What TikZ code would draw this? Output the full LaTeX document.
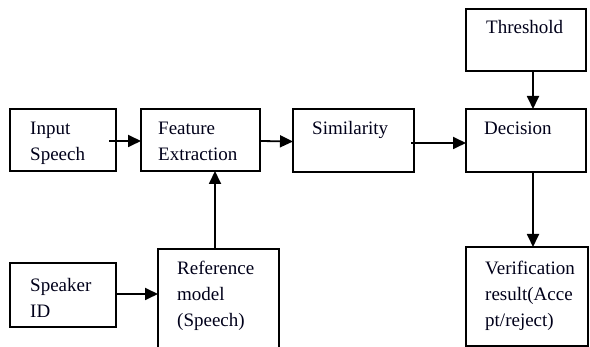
\documentclass[tikz,border=0pt]{standalone}
\usepackage{fontspec}
\setmainfont{Liberation Serif}
\usetikzlibrary{arrows.meta,calc}
\newcommand\mylines[1]{\begin{tabular}[t]{@{}l@{}}#1\end{tabular}}
\begin{document}
\begin{tikzpicture}[x=1pt,y=-1pt,
  box/.style={draw=black,line width=1.7pt,rectangle,inner sep=0pt,outer sep=0pt},
  txt/.style={anchor=base west,inner sep=0pt,font=\fontsize{19}{26}\selectfont,text=black!90!blue},
  arr/.style={line width=1.8pt,-{Triangle[length=13pt,width=12pt]}}]
\useasboundingbox (0,0) rectangle (590,347);
\clip (0,0) rectangle (590,347);
\node[box,minimum width=106pt,minimum height=62pt] (inp) at (63,140) {};
\node[box,minimum width=119pt,minimum height=62pt] (fe) at (200.5,140) {};
\node[box,minimum width=121pt,minimum height=63pt] (sim) at (353.5,140.5) {};
\node[box,minimum width=120pt,minimum height=63pt] (dec) at (526,140.5) {};
\node[box,minimum width=120pt,minimum height=62pt] (thr) at (526,40) {};
\node[box,minimum width=106pt,minimum height=64pt] (spk) at (63,295) {};
\node[box,minimum width=121pt,minimum height=101pt] (ref) at (218.5,299.5) {};
\node[box,minimum width=122pt,minimum height=99pt] (ver) at (527,296.5) {};
\node[txt] (tinp) at (30,135) {\mylines{Input\\Speech}};
\node[txt] (tfe) at (158,135) {\mylines{Feature\\Extraction}};
\node[txt] (tsim) at (312,135) {Similarity};
\node[txt] (tdec) at (484,135) {Decision};
\node[txt] (tthr) at (486,34) {Threshold};
\node[txt] (tspk) at (30,292) {\mylines{Speaker\\ID}};
\node[txt] (tref) at (177,275) {\mylines{Reference\\model\\(Speech)}};
\node[txt] (tver) at (485,275) {\mylines{Verification\\result(Acce\\pt/reject)}};
\draw[arr] ([xshift=-7pt,yshift=-1pt]inp.east) -- ([yshift=-1pt]fe.west);
\draw[arr] ([yshift=-1pt]fe.east) -- ([yshift=-1pt]sim.west);
\draw[arr] ([xshift=-3pt,yshift=-2.5pt]sim.east) -- ([yshift=-2.5pt]dec.west);
\draw[arr] ([xshift=7pt]thr.south) -- ([xshift=7pt]dec.north);
\draw[arr] ([xshift=7pt]dec.south) -- ([xshift=6pt]ver.north);
\draw[arr] ([xshift=-3.5pt]ref.north) -- ([xshift=-3.5pt]ref.north |- fe.south);
\draw[arr] ([yshift=1pt]spk.east) -- ([yshift=1pt]spk.east -| ref.west);
\end{tikzpicture}
\end{document}
